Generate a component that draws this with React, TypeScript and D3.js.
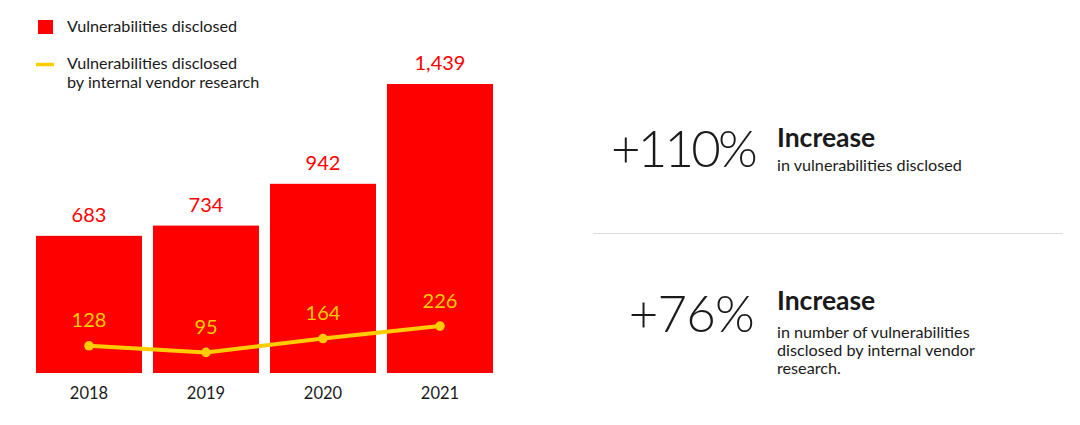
import React from 'react';
import * as d3 from 'd3';

const years = ['2018', '2019', '2020', '2021'];
const disclosed = [683, 734, 942, 1439];
const internalResearch = [128, 95, 164, 226];

const RED = '#ff0000';
const YELLOW = '#ffcc00';
const INK = '#1a1a1a';
const FONT = 'Lato, "Noto Sans", sans-serif';

const width = 1080;
const height = 425;

const App: React.FC = () => {
    const x = d3.scaleBand()
        .domain(years)
        .range([36, 493])
        .paddingInner(0.094)
        .paddingOuter(0);

    // bars and line share the same value scale
    const y = d3.scaleLinear()
        .domain([0, 1439])
        .range([373, 84]);

    const cx = (d: string) => (x(d) as number) + x.bandwidth() / 2;

    const linePath = d3.line<number>()
        .x((_, i) => cx(years[i]))
        .y(d => y(d) - 1.5)(internalResearch) || '';

    const fmt = d3.format(',');

    return (
        <svg
            width={width}
            height={height}
            style={{ position: 'absolute', left: 0, top: 0, background: '#fff' }}
            fontFamily={FONT}
        >
            {/* legend */}
            <rect x={38} y={20} width={15} height={14} fill={RED} />
            <text x={67} y={32} fontSize={16.2} fill={INK}>Vulnerabilities disclosed</text>
            <line x1={36} x2={54} y1={64.5} y2={64.5} stroke={YELLOW} strokeWidth={3.5} />
            <text x={67} y={69} fontSize={16.2} fill={INK}>Vulnerabilities disclosed</text>
            <text x={67} y={88} fontSize={16.2} fill={INK}>by internal vendor research</text>

            {/* bars */}
            <g>
                {years.map((yr, i) => (
                    <g key={yr}>
                        <rect
                            x={x(yr)}
                            y={y(disclosed[i])}
                            width={x.bandwidth()}
                            height={y(0) - y(disclosed[i])}
                            fill={RED}
                        />
                        <text
                            x={cx(yr)}
                            y={y(disclosed[i]) - 14}
                            textAnchor="middle"
                            fontSize={20}
                            fill={RED}
                        >
                            {fmt(disclosed[i])}
                        </text>
                        <text
                            x={cx(yr)}
                            y={399}
                            textAnchor="middle"
                            fontSize={16.5}
                            fill={INK}
                        >
                            {yr}
                        </text>
                    </g>
                ))}
            </g>

            {/* internal vendor research line */}
            <path d={linePath} fill="none" stroke={YELLOW} strokeWidth={4} strokeLinejoin="round" />
            {internalResearch.map((v, i) => (
                <g key={years[i]}>
                    <circle cx={cx(years[i])} cy={y(v) - 1.5} r={4.8} fill={YELLOW} />
                    <text
                        x={cx(years[i])}
                        y={y(v) - 20}
                        textAnchor="middle"
                        fontSize={20}
                        fill={YELLOW}
                    >
                        {v}
                    </text>
                </g>
            ))}

            {/* right-hand call-outs */}
            <text x={755} y={166.5} textAnchor="end" fontSize={51} fontWeight={300} letterSpacing={-2.8} fill={INK}>+110%</text>
            <text x={777} y={147} fontSize={26.5} fontWeight={700} fill={INK}>Increase</text>
            <text x={777} y={170.5} fontSize={16.2} fill={INK}>in vulnerabilities disclosed</text>

            <line x1={593} x2={1063} y1={233.5} y2={233.5} stroke="#dcdcdc" strokeWidth={1} />

            <text x={754} y={332} textAnchor="end" fontSize={51} fontWeight={300} letterSpacing={-0.8} fill={INK}>+76%</text>
            <text x={777} y={310} fontSize={26.5} fontWeight={700} fill={INK}>Increase</text>
            <text x={777} y={338} fontSize={16.2} fill={INK}>in number of vulnerabilities</text>
            <text x={777} y={356} fontSize={16.2} fill={INK}>disclosed by internal vendor</text>
            <text x={777} y={373.5} fontSize={16.2} fill={INK}>research.</text>
        </svg>
    );
};

export default App;
